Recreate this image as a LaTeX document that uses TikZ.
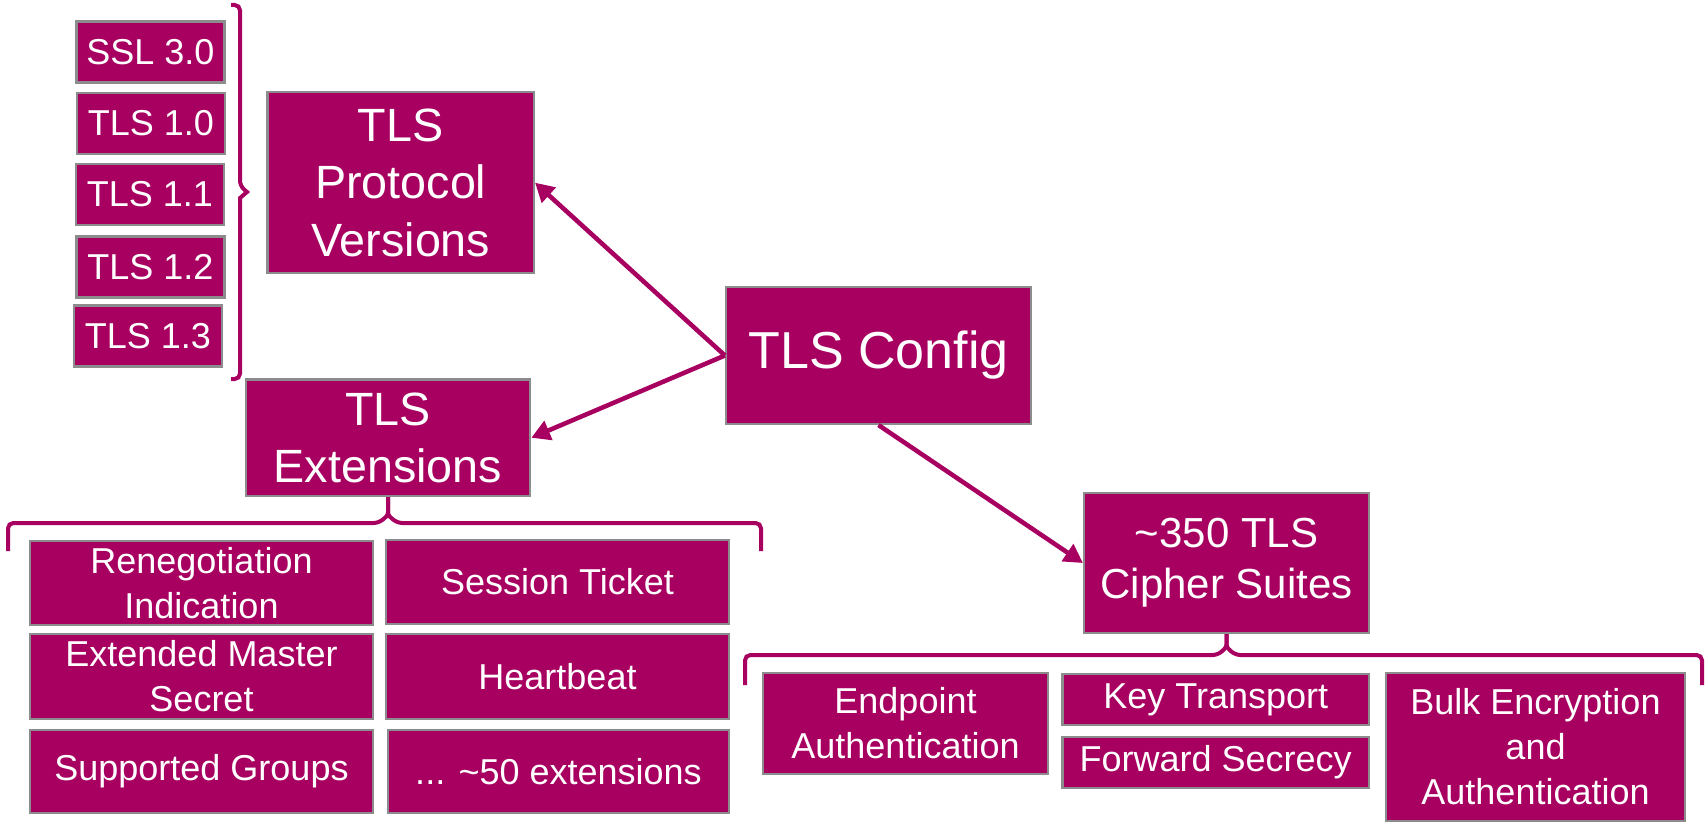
\documentclass[tikz,border=0pt]{standalone}
\usepackage{fontspec}
\setmainfont{Liberation Sans}
\usetikzlibrary{arrows.meta}
\definecolor{berry}{RGB}{168,0,96}
\definecolor{rim}{RGB}{140,140,140}

\begin{document}
\begin{tikzpicture}[x=0.75pt,y=-0.75pt,
  box/.style={draw=rim, line width=1.6pt, fill=berry, text=white, inner sep=0pt, align=center},
  wh/.style 2 args={minimum width=#1*0.75pt, minimum height=#2*0.75pt},
  small/.style={font=\fontsize{27}{33.75}\selectfont},
  mid/.style={font=\fontsize{35}{43}\selectfont},
  link/.style={draw=berry, line width=3.4pt, -{Triangle[length=14pt,width=15pt]}},
  brace/.style={draw=berry, line width=3pt, rounded corners=4pt}
]
\useasboundingbox (0,0) rectangle (1705,824);

% protocol versions
\node[box, small, wh={148}{61}] (ssl) at (150.5,52)  {SSL 3.0};
\node[box, small, wh={148}{61}] (t10) at (151,123.5) {TLS 1.0};
\node[box, small, wh={148}{61}] (t11) at (150,194.5) {TLS 1.1};
\node[box, small, wh={148}{61}] (t12) at (150.5,267) {TLS 1.2};
\node[box, small, wh={148}{61}] (t13) at (148,336)   {TLS 1.3};

% main boxes
\node[box, mid, wh={266.5}{180.6}] (vers) at (400.75,182.7) {TLS\\Protocol\\Versions};
\node[box, font=\fontsize{39}{47}\selectfont, wh={305}{137}] (config) at (878.5,355.5) {TLS Config};
\node[box, mid, wh={284.5}{116.5}] (ext) at (388,437.75) {TLS\\Extensions};
\node[box, font=\fontsize{31.5}{38}\selectfont, wh={285}{140}] (cipher) at (1226.5,563) {\textasciitilde350 TLS\\Cipher Suites};

% extensions
\node[box, small, wh={343}{84}] (reneg)   at (201.5,583)   {Renegotiation\\Indication};
\node[box, small, wh={343}{84}] (session) at (557.5,582)   {Session Ticket};
\node[box, small, wh={343}{85}] (ems)     at (201.5,676.5) {Extended Master\\Secret};
\node[box, small, wh={343}{85}] (heart)   at (557.5,676.5) {Heartbeat};
\node[box, small, wh={343}{83}] (groups)  at (201.5,771.5) {Supported Groups};
\node[box, small, wh={341}{83}] (more)    at (558.5,771.5) {... \textasciitilde50 extensions};

% cipher suite parts
\node[box, small, wh={285}{101}]   (endp) at (905.5,723.5)   {Endpoint\\Authentication};
\node[box, small, wh={306.5}{51}]  (keyt) at (1215.75,699.5) {Key Transport};
\node[box, small, wh={306.5}{51}]  (fwd)  at (1215.75,762.5) {Forward Secrecy};
\node[box, small, wh={299}{148}]   (bulk) at (1535.5,747)    {Bulk Encryption\\and\\Authentication};

% braces
\draw[brace] (231,5) -- (240,5) -- (240,186) [rounded corners=0pt] -- (247,192) -- (240,198) [rounded corners=4pt] -- (240,379) -- (231,379);
\draw[brace] (8,551) -- (8,523) -- (379,523) [rounded corners=2pt] -- (388,515) -- (ext.south);
\draw[brace] (761,551) -- (761,523) -- (397,523) [rounded corners=2pt] -- (388,515) -- (ext.south);
\draw[brace] (745,685) -- (745,655) -- (1218,655) [rounded corners=2pt] -- (1226.5,647) -- (cipher.south);
\draw[brace] (1702,685) -- (1702,655) -- (1235,655) [rounded corners=2pt] -- (1226.5,647) -- (cipher.south);

% arrows
\draw[link] (config.west) -- (vers.east);
\draw[link] (config.west) -- (ext.east);
\draw[link] (config.south) -- (cipher.west);
\end{tikzpicture}
\end{document}
